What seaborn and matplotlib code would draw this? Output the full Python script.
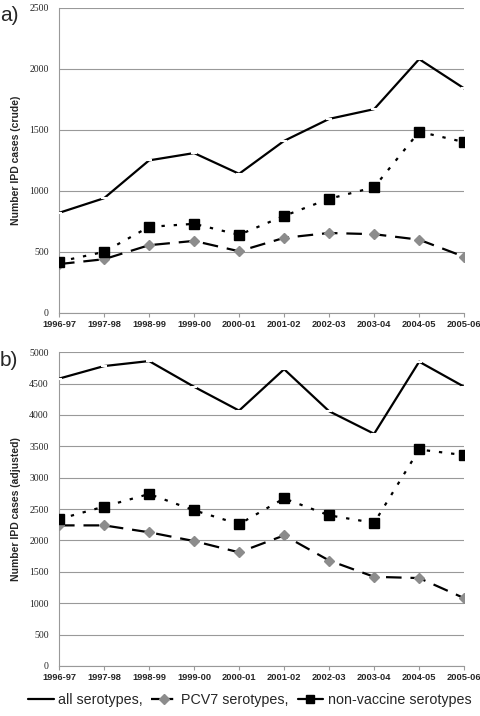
import numpy as np
import pandas as pd
import matplotlib
matplotlib.use("Agg")
import matplotlib.pyplot as plt
import seaborn as sns

seasons = ['1996-97', '1997-98', '1998-99', '1999-00', '2000-01',
           '2001-02', '2002-03', '2003-04', '2004-05', '2005-06']

# panel a) crude counts
crude_all = [820, 940, 1250, 1310, 1140, 1410, 1590, 1670, 2080, 1840]
crude_pcv7 = [400, 440, 555, 590, 505, 615, 655, 645, 600, 460]
crude_nvt = [420, 500, 705, 730, 640, 795, 935, 1030, 1485, 1400]

# panel b) adjusted counts
adj_all = [4580, 4780, 4860, 4450, 4070, 4730, 4060, 3700, 4850, 4450]
adj_pcv7 = [2240, 2240, 2130, 1990, 1810, 2080, 1680, 1420, 1400, 1080]
adj_nvt = [2340, 2540, 2740, 2480, 2260, 2670, 2400, 2280, 3450, 3360]

series_names = ['all serotypes,', 'PCV7 serotypes,', 'non-vaccine serotypes']

sns.set_style("white")
plt.rcParams['font.family'] = ['Liberation Sans', 'DejaVu Sans']

fig = plt.figure(figsize=(4.8, 7.16), dpi=100)
ax_a = fig.add_axes([0.123, 0.563, 0.844, 0.426])
ax_b = fig.add_axes([0.123, 0.070, 0.844, 0.438])

x = np.arange(len(seasons))


def draw_panel(ax, all_vals, pcv7_vals, nvt_vals, ymax, ylabel):
    df = pd.DataFrame({'x': x, 'all': all_vals, 'pcv7': pcv7_vals, 'nvt': nvt_vals})
    sns.lineplot(data=df, x='x', y='all', ax=ax, color='black', lw=1.6,
                 marker='_', markersize=5, markeredgewidth=1.5, zorder=3)
    sns.lineplot(data=df, x='x', y='pcv7', ax=ax, color='black', lw=1.6, zorder=3)
    ax.lines[-1].set_dashes([7, 4])
    ax.plot(x, pcv7_vals, ls='none', marker='D', markersize=5.5,
            markerfacecolor='#8c8c8c', markeredgecolor='#8c8c8c', zorder=4)
    sns.lineplot(data=df, x='x', y='nvt', ax=ax, color='black', lw=1.6, zorder=3)
    ax.lines[-1].set_dashes([1.5, 4])
    ax.plot(x, nvt_vals, ls='none', marker='s', markersize=7,
            color='black', zorder=4)

    ax.set_xlim(0, len(seasons) - 1)
    ax.set_ylim(0, ymax)
    ax.set_yticks(np.arange(0, ymax + 1, 500))
    ax.set_yticklabels([str(v) for v in range(0, ymax + 1, 500)],
                       family='Liberation Serif', fontsize=7)
    ax.set_xticks(x)
    ax.set_xticklabels(seasons, fontsize=6.7, fontweight='bold')
    ax.grid(axis='y', color='#999999', lw=0.8)
    ax.set_axisbelow(True)
    for s in ['top', 'right']:
        ax.spines[s].set_visible(False)
    for s in ['left', 'bottom']:
        ax.spines[s].set_color('#999999')
        ax.spines[s].set_linewidth(0.8)
    ax.tick_params(axis='x', bottom=True, length=3, width=0.8, color='#999999', pad=2)
    ax.tick_params(axis='y', left=False, pad=4)
    ax.set_xlabel('')
    ax.set_ylabel(ylabel, fontsize=7.5, fontweight='bold', labelpad=6)


draw_panel(ax_a, crude_all, crude_pcv7, crude_nvt, 2500, 'Number IPD cases (crude)')
draw_panel(ax_b, adj_all, adj_pcv7, adj_nvt, 5000, 'Number IPD cases (adjusted)')

fig.text(0.0, 0.992, 'a)', fontsize=15, va='top', ha='left')
fig.text(0.0, 0.510, 'b)', fontsize=15, va='top', ha='left')

# legend
h_all = plt.Line2D([], [], color='black', lw=1.6)
h_pcv7 = plt.Line2D([], [], color='black', lw=1.6, dashes=[4, 2], marker='D',
                    markersize=5, markerfacecolor='#8c8c8c', markeredgecolor='#8c8c8c')
h_nvt = plt.Line2D([], [], color='black', lw=1.6, marker='s', markersize=6)
fig.legend([h_all, h_pcv7, h_nvt], series_names, loc='center',
           bbox_to_anchor=(0.52, 0.022), ncol=3, frameon=False, fontsize=10.3,
           handlelength=1.8, handletextpad=0.3, columnspacing=0.6)

fig.savefig('out.png', dpi=100)
